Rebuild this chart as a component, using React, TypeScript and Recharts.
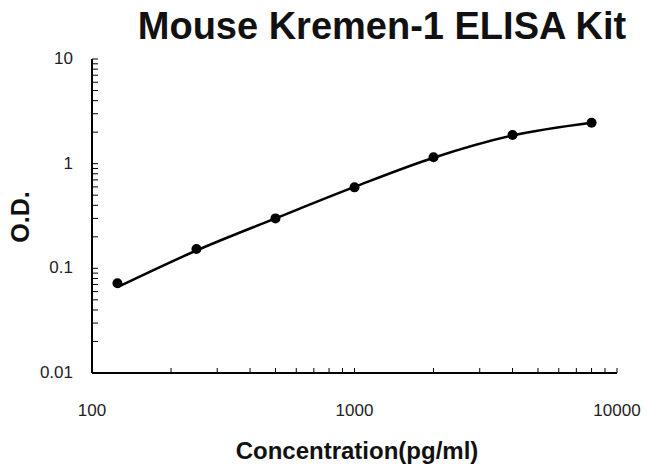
import React from "react";
import { ComposedChart, Line, XAxis, YAxis } from "recharts";

// standards (pg/ml) and measured O.D.
const concentrations = [125, 250, 500, 1000, 2000, 4000, 8000];
const odValues = [0.072, 0.153, 0.3, 0.594, 1.15, 1.88, 2.46];
// fitted standard curve
const fitValues = [0.066, 0.148, 0.3, 0.6, 1.14, 1.86, 2.46];

const xTicks = [100, 200, 300, 400, 500, 600, 700, 800, 900, 1000, 2000, 3000, 4000, 5000, 6000, 7000, 8000, 9000, 10000];
const yTicks = [
  0.01, 0.02, 0.03, 0.04, 0.05, 0.06, 0.07, 0.08, 0.09,
  0.1, 0.2, 0.3, 0.4, 0.5, 0.6, 0.7, 0.8, 0.9,
  1, 2, 3, 4, 5, 6, 7, 8, 9, 10,
];
const xLabels = [100, 1000, 10000];
const yLabels = [0.01, 0.1, 1, 10];

const data = concentrations.map((c, i) => ({ conc: c, od: odValues[i], fit: fitValues[i] }));

const FONT = "'Liberation Sans', Arial, sans-serif";

const XTick = ({ x, y, payload }: any) => (
  <g>
    <line x1={x} x2={x} y1={y} y2={y - 5} stroke="#000" strokeWidth={1} />
    {xLabels.includes(payload.value) && (
      <text x={x} y={y + 43} textAnchor="middle" fontSize={17} fill="#222" fontFamily={FONT}>
        {payload.value}
      </text>
    )}
  </g>
);

const YTick = ({ x, y, payload }: any) => (
  <g>
    <line x1={x} x2={x + 6} y1={y} y2={y} stroke="#000" strokeWidth={1} />
    {yLabels.includes(payload.value) && (
      <text x={x - 19} y={y + 5} textAnchor="end" fontSize={17} fill="#222" fontFamily={FONT}>
        {payload.value}
      </text>
    )}
  </g>
);

export default function App() {
  return (
    <div style={{ position: "absolute", left: 0, top: 0, width: 649, height: 468, background: "#fff" }}>
      <ComposedChart width={649} height={468} data={data} margin={{ top: 59, right: 32, bottom: 35, left: 30 }}>
        <text x={382} y={39} textAnchor="middle" fontSize={38} fontWeight="bold" fill="#111" fontFamily={FONT}>
          Mouse Kremen-1 ELISA Kit
        </text>
        <text x={357} y={459} textAnchor="middle" fontSize={24} fontWeight="bold" fill="#111" fontFamily={FONT}>
          Concentration(pg/ml)
        </text>
        <text
          x={29}
          y={217}
          textAnchor="middle"
          fontSize={25}
          fontWeight="bold"
          fill="#111"
          fontFamily={FONT}
          transform="rotate(-90 29 217)"
        >
          O.D.
        </text>
        <XAxis
          dataKey="conc"
          type="number"
          scale="log"
          domain={[100, 10000]}
          ticks={xTicks}
          interval={0}
          allowDataOverflow
          height={60}
          tickSize={0}
          tickMargin={0}
          tickLine={false}
          axisLine={{ stroke: "#000", strokeWidth: 2 }}
          tick={<XTick />}
        />
        <YAxis
          type="number"
          scale="log"
          domain={[0.01, 10]}
          ticks={yTicks}
          interval={0}
          allowDataOverflow
          width={62}
          tickSize={0}
          tickMargin={0}
          tickLine={false}
          axisLine={{ stroke: "#000", strokeWidth: 2 }}
          tick={<YTick />}
        />
        <Line
          dataKey="fit"
          type="monotone"
          stroke="#000"
          strokeWidth={2.5}
          dot={false}
          isAnimationActive={false}
        />
        <Line
          dataKey="od"
          stroke="none"
          dot={{ r: 5, fill: "#000", stroke: "#000", strokeWidth: 0 }}
          isAnimationActive={false}
        />
      </ComposedChart>
    </div>
  );
}
